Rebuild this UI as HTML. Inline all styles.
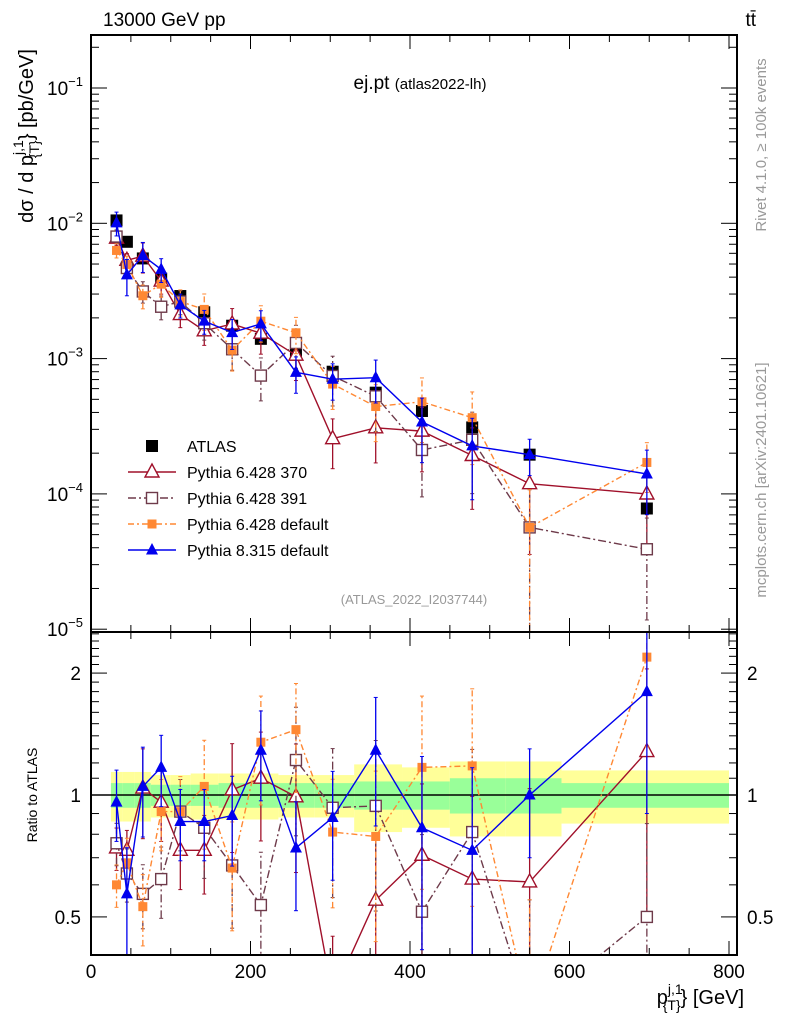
<!DOCTYPE html>
<html><head><meta charset="utf-8"><style>
html,body{margin:0;background:#fff;overflow:hidden;width:786px;height:1024px}
svg{display:block;font-family:"Liberation Sans",sans-serif}
</style></head><body>
<svg id="c" width="786" height="1024" viewBox="0 0 786 1024"></svg>
<script>
const xs=[32,45,65,88,112,142,177,213,257,303,357,415,478,550,697];
const binEdges=[25,40,55,75,100,125,160,195,235,280,330,390,450,520,590,800];
const atlas=[1.05e-2,7.3e-3,5.5e-3,3.9e-3,2.9e-3,2.2e-3,1.75e-3,1.4e-3,1.07e-3,8.0e-4,5.6e-4,4.1e-4,3.1e-4,1.95e-4,7.8e-5];
const greenHalf=[0.07,0.07,0.07,0.06,0.06,0.06,0.07,0.07,0.07,0.07,0.08,0.08,0.10,0.10,0.07];
const yellowHalf=[0.14,0.14,0.14,0.12,0.12,0.13,0.13,0.13,0.12,0.12,0.19,0.17,0.21,0.21,0.15];
const r370=[0.74,0.73,1.04,0.96,0.73,0.73,1.03,1.10,0.99,0.32,0.55,0.71,0.62,0.61,1.28];
const e370=[0.12,0.12,0.25,0.2,0.2,0.22,0.3,0.3,0.35,0.4,0.45,0.5,0.6,0.7,0.6];
const r391=[0.76,0.64,0.57,0.62,0.91,0.83,0.67,0.535,1.22,0.93,0.94,0.515,0.81,0.29,0.5];
const e391=[0.12,0.15,0.18,0.2,0.2,0.25,0.3,0.35,0.35,0.4,0.45,0.55,0.6,0.9,0.7];
const rDef6=[0.60,0.68,0.53,0.91,0.91,1.05,0.66,1.35,1.45,0.81,0.79,1.17,1.18,0.29,2.19];
const eDef6=[0.12,0.15,0.2,0.2,0.22,0.3,0.3,0.3,0.3,0.35,0.45,0.5,0.55,0.9,0.4];
const rPy8=[0.96,0.57,1.05,1.17,0.86,0.86,0.89,1.29,0.74,0.88,1.29,0.83,0.73,1.0,1.8];
const ePy8=[0.2,0.3,0.25,0.2,0.2,0.2,0.25,0.25,0.3,0.3,0.35,0.5,0.6,0.3,0.5];
const xTicks=[0,200,400,600,800];
const yMainTicks=[-1,-2,-3,-4,-5];
const ratioTicks=[2,1,0.5];

const L=91,R=737,T=35,M=632,B=955;
const X=v=>91+v*0.7975;
const Y=v=>88-(Math.log10(v)+1)*135.3;
const YR=v=>795-Math.log10(v)*405;
const svg=document.getElementById('c');
const NS='http://www.w3.org/2000/svg';
function el(tag,at,parent){const e=document.createElementNS(NS,tag);for(const k in at)e.setAttribute(k,at[k]);(parent||svg).appendChild(e);return e;}
function txt(s,at,parent){const e=el('text',at,parent);e.textContent=s;return e;}

const defs=el('defs',{});
const cp1=el('clipPath',{id:'cm'},defs);el('rect',{x:L,y:T,width:R-L,height:M-T},cp1);
const cp2=el('clipPath',{id:'cr'},defs);el('rect',{x:L,y:M,width:R-L,height:B-M},cp2);

const bandG=el('g',{'clip-path':'url(#cr)'});


for(let i=0;i<xs.length;i++){
  const x0=X(binEdges[i]),x1=X(binEdges[i+1]);
  const yb=el('rect',{x:x0,y:YR(1+yellowHalf[i]),width:x1-x0,height:YR(1-yellowHalf[i])-YR(1+yellowHalf[i]),fill:'#ffff99'},bandG);
  
  
  const gb=el('rect',{x:x0,y:YR(1+greenHalf[i]),width:x1-x0,height:YR(1-greenHalf[i])-YR(1+greenHalf[i]),fill:'#99ff99'},bandG);
  
  
}
el('line',{x1:L,x2:R,y1:YR(1),y2:YR(1),stroke:'#000','stroke-width':1.5});

const series=[
 {name:'pythia-6428-370',r:r370,e:e370,color:'#a0102a',dash:'',marker:'tri-open'},
 {name:'pythia-6428-391',r:r391,e:e391,color:'#6e3a4a',dash:'8,3,2,3',marker:'sq-open'},
 {name:'pythia-6428-default',r:rDef6,e:eDef6,color:'#ff8833',dash:'6,3,2,3',marker:'sq-fill'},
 {name:'pythia-8315-default',r:rPy8,e:ePy8,color:'#0000ee',dash:'',marker:'tri-fill'}
];
function marker(g,type,x,y,c,name){
  let m;
  if(type==='tri-open'){
    m=el('polygon',{points:`${x},${y-8} ${x-7},${y+5} ${x+7},${y+5}`,fill:'#fff','stroke':c,'stroke-width':1.4},g);
  }else if(type==='tri-fill'){
    m=el('polygon',{points:`${x},${y-7} ${x-6},${y+4.5} ${x+6},${y+4.5}`,fill:c},g);
  }else if(type==='sq-open'){
    m=el('rect',{x:x-5.5,y:y-5.5,width:11,height:11,fill:'#fff',stroke:c,'stroke-width':1.4},g);
  }else if(type==='sq-fill'){
    m=el('rect',{x:x-4.5,y:y-4.5,width:9,height:9,fill:c},g);
  }else{
    m=el('rect',{x:x-6,y:y-6,width:12,height:12,fill:c},g);
  }
  
  
}
function drawPanel(clip,yf,isMain){
  const g=el('g',{'clip-path':clip});
  
  
  if(isMain){
    xs.forEach((x,i)=>{marker(g,'black',X(x),yf(atlas[i]),'#000','atlas-point');});
  }
  series.forEach(s=>{
    const vals=s.r.map((r,i)=>isMain?r*atlas[i]:r);
    const pts=xs.map((x,i)=>X(x)+','+yf(vals[i])).join(' ');
    const pl=el('polyline',{points:pts,fill:'none',stroke:s.color,'stroke-width':1.4,'stroke-dasharray':s.dash},g);
    
    
    xs.forEach((x,i)=>{
      const v=vals[i],lo=Math.max(v*(1-s.e[i]),v*0.02),hi=v*(1+s.e[i]);
      const px=X(x);
      const eb=el('line',{x1:px,x2:px,y1:yf(lo),y2:yf(hi),stroke:s.color,'stroke-width':1.3,'stroke-dasharray':s.dash},g);
      
      
      el('line',{x1:px-2,x2:px+2,y1:yf(hi),y2:yf(hi),stroke:s.color},g);
      el('line',{x1:px-2,x2:px+2,y1:yf(lo),y2:yf(lo),stroke:s.color},g);
      marker(g,s.marker,px,yf(v),s.color,s.name+'-point');
    });
  });
}
drawPanel('url(#cm)',Y,true);
drawPanel('url(#cr)',YR,false);

const fr1=el('rect',{x:L,y:T,width:R-L,height:M-T,fill:'none',stroke:'#000','stroke-width':2});

const fr2=el('rect',{x:L,y:M,width:R-L,height:B-M,fill:'none',stroke:'#000','stroke-width':2});


for(let v=0;v<=800;v+=50){
  const big=v%200===0, len=big?14:7, px=X(v);
  [[T,1],[M,-1],[M,1],[B,-1]].forEach(([y,d])=>el('line',{x1:px,x2:px,y1:y,y2:y+d*len,stroke:'#000'}));
}
xTicks.forEach(v=>{const t=txt(String(v),{x:X(v),y:978,'font-size':19,'text-anchor':'middle'});
});
yMainTicks.forEach(p=>{
  const y=Y(Math.pow(10,p));
  el('line',{x1:L,x2:L+16,y1:y,y2:y,stroke:'#000'});el('line',{x1:R,x2:R-16,y1:y,y2:y,stroke:'#000'});
  for(let k=2;k<=9;k++){const yy=Y(k*Math.pow(10,p));if(yy<T)continue;
    el('line',{x1:L,x2:L+8,y1:yy,y2:yy,stroke:'#000'});el('line',{x1:R,x2:R-8,y1:yy,y2:yy,stroke:'#000'});}
  const t=el('text',{x:83,y:y+7,'font-size':19,'text-anchor':'end'});
  
  t.innerHTML='10<tspan dy="-9" font-size="13">−'+(-p)+'</tspan>';
});
[0.4,0.5,0.6,0.7,0.8,0.9,1,1.1,1.2,1.3,1.4,1.5,1.6,1.7,1.8,1.9,2,2.1,2.2,2.3,2.4,2.5].forEach(v=>{
  const y=YR(v);if(y<M||y>B)return;const big=(v===0.5||v===1||v===2);const len=big?16:8;
  el('line',{x1:L,x2:L+len,y1:y,y2:y,stroke:'#000'});el('line',{x1:R,x2:R-len,y1:y,y2:y,stroke:'#000'});
});
ratioTicks.forEach(v=>{
  const a=txt(String(v),{x:81,y:YR(v)+7,'font-size':19,'text-anchor':'end'});
  
  const b=txt(String(v),{x:747,y:YR(v)+7,'font-size':19});
  
});

const leg=el('g',{});

const legItems=[['ATLAS','black','#000',''],['Pythia 6.428 370','tri-open','#a0102a',''],['Pythia 6.428 391','sq-open','#6e3a4a','8,3,2,3'],['Pythia 6.428 default','sq-fill','#ff8833','6,3,2,3'],['Pythia 8.315 default','tri-fill','#0000ee','']];
legItems.forEach((it,i)=>{
  const y=446+i*26;
  if(i>0)el('line',{x1:128,x2:176,y1:y,y2:y,stroke:it[2],'stroke-width':1.4,'stroke-dasharray':it[3]},leg);
  marker(leg,it[1],152,y,it[2],'legend-marker');
  const t=txt(it[0],{x:187,y:y+6,'font-size':16},leg);
  
});

function T2(s,at,name){const t=txt(s,at);return t;}
T2('13000 GeV pp',{x:103,y:26,'font-size':19},'beam-label');
const tt=el('text',{x:756,y:26,'font-size':19,'text-anchor':'end'});tt.innerHTML='tt̄';

const ti=el('text',{x:420,y:89,'font-size':19,'text-anchor':'middle'});ti.innerHTML='ej.pt <tspan font-size="15">(atlas2022-lh)</tspan>';

T2('(ATLAS_2022_I2037744)',{x:414,y:604,'font-size':13,fill:'#999','text-anchor':'middle'},'analysis-id');
T2('Rivet 4.1.0, ≥ 100k events',{x:766,y:145,'font-size':15,fill:'#999','text-anchor':'middle',transform:'rotate(-90 766 145)'},'rivet-label');
T2('mcplots.cern.ch [arXiv:2401.10621]',{x:766,y:480,'font-size':15,fill:'#999','text-anchor':'middle',transform:'rotate(-90 766 480)'},'mcplots-label');
const yl=el('text',{x:33,y:136,'font-size':20,'text-anchor':'middle',transform:'rotate(-90 33 136)'});
yl.innerHTML='dσ / d p<tspan dy="-10" font-size="14">j,1</tspan><tspan dy="16" dx="-18" font-size="14">{T}</tspan><tspan dy="-6">} [pb/GeV]</tspan>';

T2('Ratio to ATLAS',{x:37,y:795,'font-size':14,'text-anchor':'middle',transform:'rotate(-90 37 795)'},'ratio-axis-title');
const xl=el('text',{x:744,y:1004,'font-size':20,'text-anchor':'end'});
xl.innerHTML='p<tspan dy="-10" font-size="14">j,1</tspan><tspan dy="16" font-size="14" dx="-20">{T}</tspan><tspan dy="-6">} [GeV]</tspan>';

</script>
</body></html>
